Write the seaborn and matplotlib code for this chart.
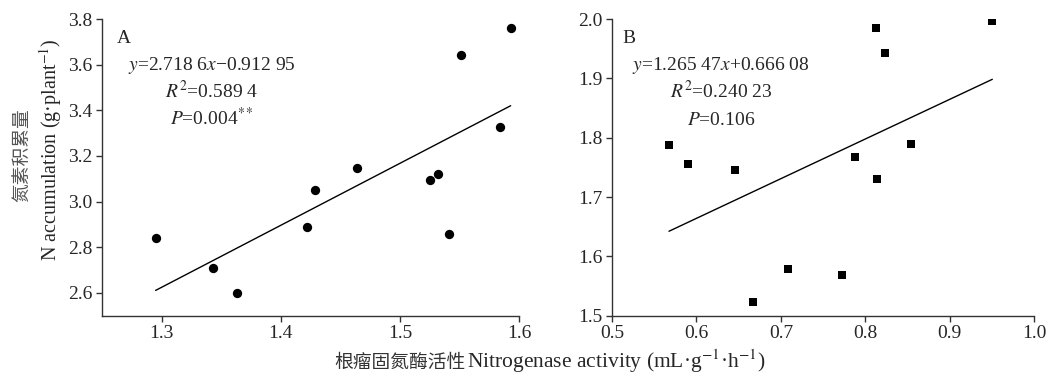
import numpy as np
import pandas as pd
import matplotlib
matplotlib.use("Agg")
import matplotlib.pyplot as plt
import seaborn as sns

sns.set_style("ticks")
plt.rcParams['font.family'] = ['Liberation Serif', 'Noto Sans CJK SC']
plt.rcParams['mathtext.fontset'] = 'stix'

# panel A: nitrogenase activity vs N accumulation
a_activity = [1.295, 1.343, 1.363, 1.422, 1.429, 1.464, 1.525, 1.532, 1.541, 1.551, 1.584, 1.593]
a_nacc = [2.842, 2.708, 2.600, 2.887, 3.049, 3.148, 3.094, 3.121, 2.858, 3.641, 3.328, 3.762]

# panel B
b_activity = [0.5675, 0.5904, 0.6452, 0.6673, 0.7084, 0.7723, 0.7881, 0.8126, 0.8133, 0.8236, 0.8540, 0.9503]
b_nacc = [1.787, 1.755, 1.745, 1.523, 1.578, 1.568, 1.768, 1.985, 1.731, 1.942, 1.790, 1.996]

a_ticks_x = [1.3, 1.4, 1.5, 1.6]
a_ticks_y = [2.6, 2.8, 3.0, 3.2, 3.4, 3.6, 3.8]
b_ticks_x = [0.5, 0.6, 0.7, 0.8, 0.9, 1.0]
b_ticks_y = [1.5, 1.6, 1.7, 1.8, 1.9, 2.0]

a_text = ["$y$=2.718 6$x$\u22120.912 95", "$R^2$=0.589 4", "$P$=0.004$^{**}$"]
b_text = ["$y$=1.265 47$x$+0.666 08", "$R^2$=0.240 23", "$P$=0.106"]

df_a = pd.DataFrame({"x": a_activity, "y": a_nacc})
df_b = pd.DataFrame({"x": b_activity, "y": b_nacc})

fig = plt.figure(figsize=(10.54, 3.76), dpi=100)
ax_a = fig.add_axes([0.0968, 0.1604, 0.3956, 0.789])
ax_b = fig.add_axes([0.5806, 0.1604, 0.4007, 0.789])

FS = 14


def draw_panel(ax, df, marker, size, letter, lines, text_x, xlim, ylim, xticks, yticks):
    sns.regplot(data=df, x="x", y="y", ax=ax, scatter=False, ci=None,
                truncate=True, line_kws=dict(color="black", lw=1.0))
    sns.scatterplot(data=df, x="x", y="y", ax=ax, marker=marker, s=size,
                    color="black", edgecolor="black", linewidth=0)
    ax.set_xlim(*xlim)
    ax.set_ylim(*ylim)
    ax.set_xticks(xticks)
    ax.set_yticks(yticks)
    ax.set_xticklabels([f"{t:.1f}" for t in xticks])
    ax.set_yticklabels([f"{t:.1f}" for t in yticks])
    ax.set_xlabel("")
    ax.set_ylabel("")
    ax.tick_params(labelsize=FS, length=4, width=1, color="#333333", pad=3)
    for side in ["left", "bottom"]:
        ax.spines[side].set_color("#333333")
        ax.spines[side].set_linewidth(1.0)
    sns.despine(ax=ax)
    ax.text(0.035 if letter == "A" else 0.024, 0.919, letter, transform=ax.transAxes,
            fontsize=FS, va="baseline", ha="left")
    for txt, yy in zip(lines, [0.828, 0.734, 0.643]):
        ax.text(text_x, yy, txt, transform=ax.transAxes, fontsize=FS,
                va="baseline", ha="center")


draw_panel(ax_a, df_a, "o", 45, "A", a_text, 0.264, (1.25, 1.6), (2.5, 3.8), a_ticks_x, a_ticks_y)
draw_panel(ax_b, df_b, "s", 32, "B", b_text, 0.258, (0.5, 1.0), (1.5, 2.0), b_ticks_x, b_ticks_y)

fig.text(23 / 1054, 1 - 155 / 376, "氮素积累量", rotation=90, ha="center", va="center",
         fontsize=13.5, family="Noto Sans CJK SC", color="#555555")
fig.text(51 / 1054, 1 - 150 / 376, "N accumulation (g·plant$^{-1}$)", rotation=90,
         ha="center", va="center", fontsize=14.5)
fig.text(334 / 1054, 1 - 368 / 376, "根瘤固氮酶活性", ha="left", va="baseline",
         fontsize=13.5, family="Noto Sans CJK SC", color="#333333")
fig.text(467 / 1054, 1 - 368 / 376, "Nitrogenase activity (mL·g$^{-1}$·h$^{-1}$)",
         ha="left", va="baseline", fontsize=15.5)

fig.savefig("out.png", dpi=100)
